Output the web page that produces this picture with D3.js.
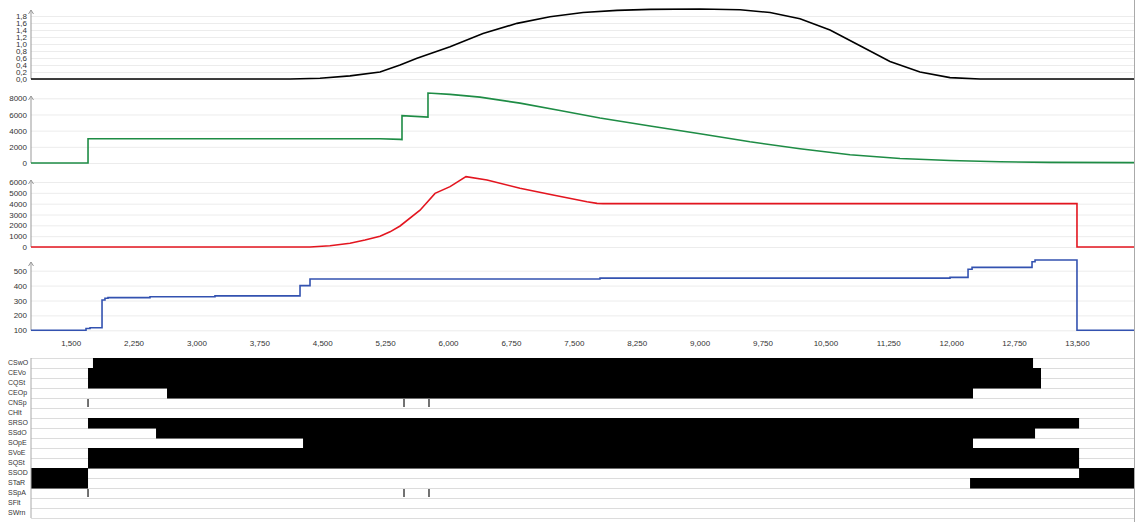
<!DOCTYPE html>
<html lang="en">
<head>
<meta charset="UTF-8" />
<title>Process trace</title>
<script src="https://d3js.org/d3.v7.min.js"></script>
<style>
  body { margin: 0; overflow: hidden; background: #fff; }
  text { font-family: "Liberation Sans", Arial, sans-serif; font-size: 8px; fill: #333; }
  .rows text { font-size: 7px; }
  .grid line { stroke: #ececec; }
  .grid .domain { display: none; }
</style>
</head>
<body>
<svg width="1143" height="522"></svg>
<script>
// time axis ticks
var timeTicks = [1500, 2250, 3000, 3750, 4500, 5250, 6000, 6750, 7500, 8250, 9000, 9750, 10500, 11250, 12000, 12750, 13500];

// analog traces, [time, value]
var speedCurve = [[1027, 0], [4116, 0], [4473, 0.02], [4831, 0.09], [5189, 0.2], [5428, 0.4], [5630, 0.59],
  [6024, 0.92], [6417, 1.3], [6823, 1.59], [7216, 1.78], [7610, 1.9], [8015, 1.96], [8409, 1.99], [9005, 2.0],
  [9482, 1.98], [9840, 1.9], [10197, 1.72], [10555, 1.4], [10913, 0.95], [11270, 0.5], [11628, 0.2],
  [11986, 0.04], [12344, 0], [14180, 0]];

var pressureCurve = [[1027, 0], [1707, 0], [1707, 3000], [5189, 3000], [5427, 2920], [5451, 2900], [5451, 5850],
  [5761, 5680], [5761, 8650], [6024, 8480], [6381, 8150], [6858, 7400], [7335, 6500], [7812, 5560], [8409, 4580],
  [9005, 3620], [9601, 2620], [10197, 1760], [10794, 1020], [11390, 560], [11986, 310], [12582, 150],
  [13179, 80], [14180, 50]];

var tempCurve = [[1027, 0], [4354, 0], [4592, 120], [4831, 350], [5010, 650], [5189, 1000], [5308, 1400],
  [5428, 1940], [5666, 3400], [5845, 4950], [6024, 5570], [6214, 6490], [6465, 6180], [6858, 5420],
  [7252, 4800], [7657, 4180], [7777, 4030], [7850, 4000], [13500, 4000], [13500, 0], [14180, 0]];

var levelSteps = [[1027, 100], [1683, 112], [1731, 117], [1874, 303], [1909, 315], [1945, 319], [2446, 325],
  [3221, 331], [4235, 400], [4354, 444], [7812, 450], [11986, 455], [12201, 510], [12249, 522],
  [12964, 560], [13000, 572], [13500, 100], [14180, 100]];

// digital channels
var channelNames = ["CSwO", "CEVo", "CQSt", "CEOp", "CNSp", "CHlt", "SRSO", "SSdO", "SOpE", "SVoE", "SQSt", "SSOD", "STaR", "SSpA", "SFlt", "SWrn"];
var channelSpans = [
  [[1766, 12976]], [[1707, 13071]], [[1707, 13071]], [[2649, 12260]], [], [],
  [[1707, 13525]], [[2518, 13000]], [[4271, 12260]], [[1707, 13525]], [[1707, 13525]],
  [[1027, 1707], [13525, 14180]], [[1027, 1707], [12225, 14180]], [], [], []];
var channelPulses = [[], [], [], [], [1707, 5475, 5773], [], [], [], [], [], [], [], [], [1707, 5475, 5773], [], []];

var svg = d3.select("svg");
var left = 31, right = 1134;

var x = d3.scaleLinear().domain([1027, 14180]).range([left, right]);

var panels = [
  { data: speedCurve, color: "#000000", domain: [0, 2], range: [79, 9], top: 10,
    ticks: d3.range(0, 9.5).map(function (i) { return i * 0.2; }),
    fmt: function (d) { return d.toFixed(1).replace(".", ","); }, curve: d3.curveLinear },
  { data: pressureCurve, color: "#1e8c45", domain: [0, 8000], range: [163, 98.3], top: 96,
    ticks: [0, 2000, 4000, 6000, 8000], fmt: d3.format("d"), curve: d3.curveLinear },
  { data: tempCurve, color: "#e3151f", domain: [0, 6000], range: [247, 182], top: 180,
    ticks: [0, 1000, 2000, 3000, 4000, 5000, 6000], fmt: d3.format("d"), curve: d3.curveLinear },
  { data: levelSteps, color: "#3352b0", domain: [100, 500], range: [330.3, 270.7], top: 262,
    ticks: [100, 200, 300, 400, 500], fmt: d3.format("d"), curve: d3.curveStepAfter }
];

panels.forEach(function (p) {
  var y = d3.scaleLinear().domain(p.domain).range(p.range);

  svg.append("g")
    .attr("class", "grid")
    .attr("transform", "translate(" + left + ",0)")
    .call(d3.axisLeft(y).tickValues(p.ticks).tickFormat(p.fmt).tickSize(-(right - left)).tickPadding(4));

  // axis line with arrow head
  svg.append("line")
    .attr("x1", left).attr("x2", left)
    .attr("y1", p.range[0]).attr("y2", p.top)
    .attr("stroke", "#999");
  svg.append("path")
    .attr("d", "M" + (left - 2.5) + "," + (p.top + 4) + "L" + left + "," + p.top + "L" + (left + 2.5) + "," + (p.top + 4))
    .attr("fill", "none")
    .attr("stroke", "#999");

  svg.append("path")
    .datum(p.data)
    .attr("fill", "none")
    .attr("stroke", p.color)
    .attr("stroke-width", 1.6)
    .attr("d", d3.line()
      .curve(p.curve)
      .x(function (d) { return x(d[0]); })
      .y(function (d) { return y(d[1]); }));
});

// time axis labels
var xAxis = svg.append("g")
  .attr("transform", "translate(0,337)")
  .call(d3.axisBottom(x).tickValues(timeTicks).tickFormat(d3.format(",")).tickSize(0).tickPadding(3));
xAxis.select(".domain").remove();

// digital rows
var rowTop = 358, rowH = 10;
var rows = svg.append("g").attr("class", "rows");

channelNames.forEach(function (name, i) {
  var ry = rowTop + i * rowH;
  rows.append("line")
    .attr("x1", left).attr("x2", right)
    .attr("y1", ry + 0.5).attr("y2", ry + 0.5)
    .attr("stroke", "#dcdcdc");
  rows.append("text")
    .attr("x", 8)
    .attr("y", ry + 5)
    .attr("dy", "0.35em")
    .text(name);
});
rows.append("line")
  .attr("x1", left).attr("x2", right)
  .attr("y1", rowTop + channelNames.length * rowH + 0.5).attr("y2", rowTop + channelNames.length * rowH + 0.5)
  .attr("stroke", "#dcdcdc");

channelSpans.forEach(function (spans, i) {
  rows.selectAll(null)
    .data(spans)
    .enter()
    .append("rect")
    .attr("x", function (d) { return x(d[0]); })
    .attr("width", function (d) { return x(d[1]) - x(d[0]); })
    .attr("y", rowTop + i * rowH)
    .attr("height", rowH + 0.5)
    .attr("fill", "#000");
});

channelPulses.forEach(function (pulses, i) {
  rows.selectAll(null)
    .data(pulses)
    .enter()
    .append("line")
    .attr("x1", function (d) { return x(d); })
    .attr("x2", function (d) { return x(d); })
    .attr("y1", rowTop + i * rowH + 1)
    .attr("y2", rowTop + (i + 1) * rowH - 1)
    .attr("stroke", "#444")
    .attr("stroke-width", 1.5);
});

rows.append("line")
  .attr("x1", left).attr("x2", left)
  .attr("y1", rowTop).attr("y2", rowTop + channelNames.length * rowH)
  .attr("stroke", "#aaa");

// right border
svg.append("line")
  .attr("x1", right + 0.5).attr("x2", right + 0.5)
  .attr("y1", 0).attr("y2", 522)
  .attr("stroke", "#aaa");
</script>
</body>
</html>
